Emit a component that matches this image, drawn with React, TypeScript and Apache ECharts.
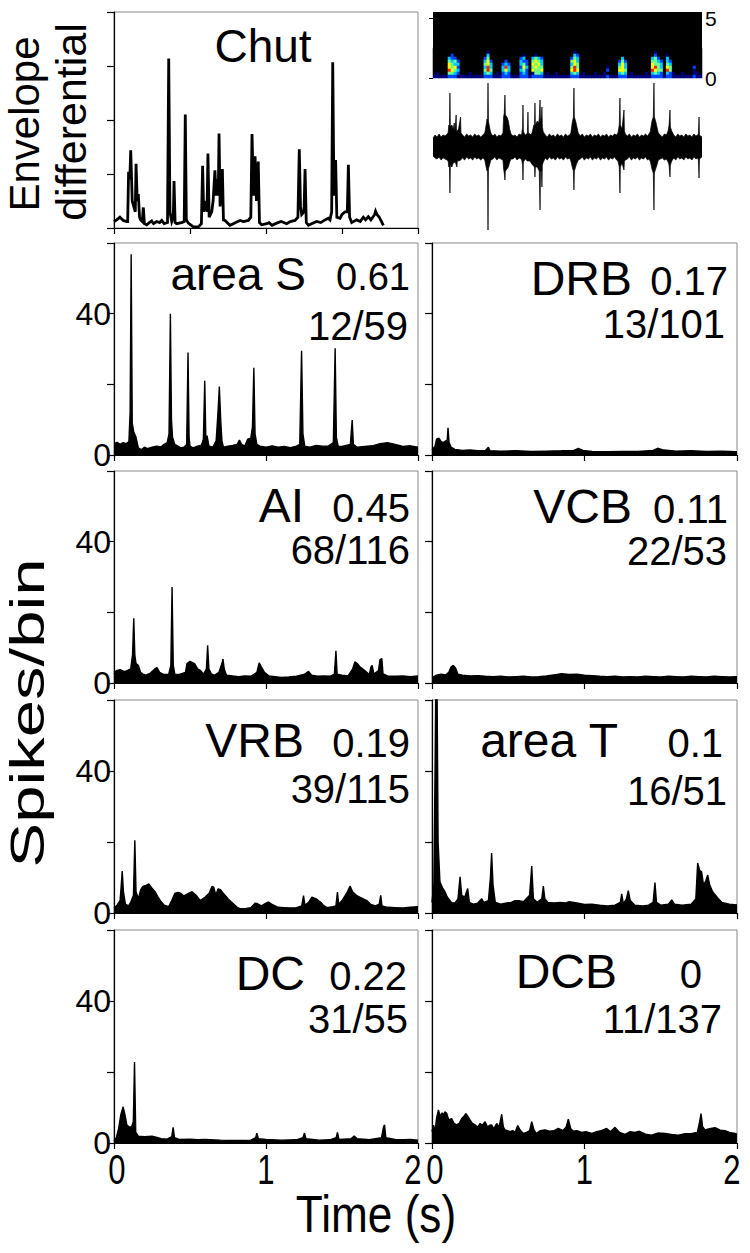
import React, { useEffect, useRef } from "react";
import * as echarts from "echarts";

// ---------------- DATA ----------------
// Envelope differential of the "Chut" call: [time (s), value]
const chutEnvelope: number[][] = [
  [0, 0.12], [0.018, 0.15], [0.039, 0.2], [0.061, 0.14], [0.083, 0.12], [0.09, 0.12], [0.096, 1.04], [0.104, 0.9],
  [0.11, 1.44], [0.12, 0.5], [0.14, 0.3], [0.145, 1.19], [0.153, 0.5], [0.16, 0.63], [0.168, 0.2], [0.175, 0.15],
  [0.186, 0.12], [0.193, 0.38], [0.2, 0.08], [0.215, 0.06], [0.232, 0.1], [0.248, 0.13], [0.26, 0.08], [0.281, 0.12],
  [0.3, 0.1], [0.314, 0.14], [0.33, 0.08], [0.352, 0.1], [0.36, 3.14], [0.368, 0.3], [0.38, 0.12], [0.39, 0.2],
  [0.395, 0.87], [0.402, 0.1], [0.412, 0.08], [0.445, 0.1], [0.462, 0.12], [0.469, 2.1], [0.476, 0.15], [0.489, 0.09],
  [0.522, 0.02], [0.555, 0.02], [0.575, 0.08], [0.583, 1.15], [0.59, 0.3], [0.599, 0.5], [0.612, 0.3], [0.618, 1.38],
  [0.626, 0.2], [0.643, 0.3], [0.652, 0.5], [0.664, 1.07], [0.672, 0.6], [0.678, 0.9], [0.686, 0.6], [0.691, 1.75],
  [0.698, 0.4], [0.713, 1.09], [0.72, 0.15], [0.73, 0.14], [0.763, 0.05], [0.785, 0.08], [0.807, 0.11], [0.83, 0.14],
  [0.851, 0.12], [0.884, 0.14], [0.9, 0.2], [0.908, 1.74], [0.918, 0.6], [0.928, 1.33], [0.937, 0.5], [0.949, 1.23],
  [0.957, 0.1], [0.971, 0.06], [1.004, 0.08], [1.02, 0.1], [1.04, 0.05], [1.07, 0.09], [1.1, 0.12], [1.136, 0.08],
  [1.16, 0.12], [1.191, 0.14], [1.21, 0.2], [1.219, 1.46], [1.227, 0.4], [1.235, 0.25], [1.25, 0.3], [1.257, 1.09],
  [1.265, 0.1], [1.279, 0.05], [1.3, 0.08], [1.333, 0.12], [1.36, 0.1], [1.388, 0.15], [1.41, 0.18], [1.421, 0.15],
  [1.432, 0.3], [1.439, 3.07], [1.447, 0.6], [1.458, 1.26], [1.466, 0.2], [1.487, 0.18], [1.5, 0.25], [1.52, 0.3],
  [1.535, 0.3], [1.542, 1.17], [1.55, 0.2], [1.564, 0.1], [1.596, 0.15], [1.62, 0.12], [1.64, 0.2], [1.655, 0.15],
  [1.673, 0.21], [1.69, 0.15], [1.702, 0.2], [1.715, 0.25], [1.721, 0.31], [1.73, 0.25], [1.745, 0.2], [1.76, 0.12],
  [1.772, 0.05],
];

// Sound pressure waveform (upper / lower excursions), arbitrary units
const waveUpper: number[][] = [
  [0, 9], [0.015, 12], [0.03, 10], [0.045, 13], [0.06, 10], [0.075, 12], [0.09, 11], [0.105, 13],
  [0.112, 14], [0.118, 22], [0.122, 18], [0.126, 54], [0.129, 20], [0.14, 22], [0.15, 18], [0.158, 24], [0.163, 16],
  [0.172, 32], [0.175, 15], [0.19, 18], [0.205, 30], [0.208, 14], [0.22, 12], [0.235, 10], [0.25, 13], [0.265, 11],
  [0.28, 12], [0.295, 10], [0.31, 13], [0.325, 11], [0.34, 12], [0.355, 10], [0.37, 12],
  [0.385, 14], [0.395, 22], [0.402, 28], [0.406, 24], [0.409, 64], [0.412, 26], [0.42, 20], [0.43, 14],
  [0.445, 11], [0.46, 13], [0.475, 10], [0.49, 12], [0.505, 11],
  [0.52, 14], [0.525, 30], [0.53, 34], [0.535, 52], [0.538, 32], [0.55, 30], [0.56, 26], [0.57, 18], [0.58, 13],
  [0.595, 11], [0.61, 12], [0.625, 10], [0.64, 13], [0.655, 12],
  [0.66, 13], [0.666, 20], [0.669, 42], [0.672, 16], [0.68, 13], [0.69, 12], [0.702, 14], [0.706, 35], [0.709, 14],
  [0.72, 13], [0.73, 12], [0.74, 16], [0.75, 22], [0.755, 20], [0.758, 44], [0.761, 22], [0.775, 26], [0.785, 24],
  [0.79, 28], [0.796, 47], [0.799, 26], [0.806, 30], [0.81, 40], [0.813, 20], [0.82, 15],
  [0.835, 12], [0.85, 10], [0.865, 13], [0.88, 11], [0.895, 12], [0.91, 10], [0.925, 13], [0.94, 11], [0.955, 12],
  [0.97, 10], [0.985, 13], [1.0, 11], [1.015, 12],
  [1.025, 14], [1.035, 24], [1.044, 30], [1.048, 59], [1.051, 30], [1.06, 26], [1.07, 20], [1.08, 14],
  [1.095, 11], [1.11, 13], [1.125, 10], [1.14, 12], [1.155, 11], [1.17, 13], [1.185, 10], [1.2, 12], [1.215, 11],
  [1.23, 13], [1.245, 10], [1.26, 12], [1.275, 11], [1.29, 13], [1.305, 10], [1.32, 12], [1.335, 11], [1.35, 13],
  [1.365, 12], [1.375, 14], [1.385, 22], [1.39, 49], [1.393, 22], [1.405, 18], [1.42, 37], [1.423, 16], [1.43, 13],
  [1.445, 11], [1.46, 13], [1.475, 10], [1.49, 12], [1.505, 11], [1.52, 13], [1.535, 10], [1.55, 12], [1.565, 11],
  [1.58, 13], [1.595, 11], [1.605, 13],
  [1.615, 15], [1.628, 26], [1.638, 30], [1.643, 64], [1.646, 30], [1.655, 26], [1.665, 20], [1.675, 14],
  [1.69, 12], [1.705, 10], [1.72, 13], [1.735, 12],
  [1.748, 16], [1.755, 22], [1.762, 37], [1.765, 20], [1.775, 16],
  [1.79, 12], [1.805, 10], [1.82, 13], [1.835, 11], [1.85, 12], [1.865, 10], [1.88, 13], [1.895, 11], [1.91, 12],
  [1.925, 10], [1.94, 13], [1.955, 11], [1.968, 12], [1.973, 13], [1.978, 30], [1.981, 12], [1.99, 11], [2, 10],
];
const waveLower: number[][] = [
  [0, -9], [0.015, -11], [0.03, -12], [0.045, -10], [0.06, -13], [0.075, -11], [0.09, -12], [0.105, -13],
  [0.112, -14], [0.118, -20], [0.122, -18], [0.126, -46], [0.129, -18], [0.14, -20], [0.15, -16], [0.165, -15],
  [0.178, -20], [0.181, -13], [0.19, -14], [0.205, -13], [0.22, -11], [0.235, -13], [0.25, -10], [0.265, -12],
  [0.28, -11], [0.295, -13], [0.31, -10], [0.325, -12], [0.34, -11], [0.355, -13], [0.37, -11],
  [0.385, -13], [0.395, -20], [0.402, -24], [0.406, -22], [0.409, -83], [0.412, -22], [0.42, -18], [0.43, -13],
  [0.445, -12], [0.46, -10], [0.475, -13], [0.49, -11], [0.505, -12],
  [0.52, -13], [0.525, -22], [0.53, -26], [0.535, -33], [0.538, -24], [0.55, -22], [0.56, -20], [0.57, -15], [0.58, -12],
  [0.595, -12], [0.61, -10], [0.625, -13], [0.64, -11], [0.655, -12],
  [0.66, -13], [0.666, -18], [0.669, -33], [0.672, -15], [0.68, -13], [0.69, -12], [0.7, -14], [0.72, -14],
  [0.74, -18], [0.755, -20], [0.758, -30], [0.761, -20], [0.775, -20], [0.79, -24], [0.796, -63], [0.799, -24],
  [0.806, -24], [0.81, -40], [0.813, -18], [0.82, -15],
  [0.835, -11], [0.85, -13], [0.865, -10], [0.88, -12], [0.895, -11], [0.91, -13], [0.925, -10], [0.94, -12],
  [0.955, -11], [0.97, -13], [0.985, -10], [1.0, -12], [1.015, -11],
  [1.025, -14], [1.035, -20], [1.044, -24], [1.048, -43], [1.051, -24], [1.06, -20], [1.07, -16], [1.08, -13],
  [1.095, -12], [1.11, -10], [1.125, -13], [1.14, -11], [1.155, -12], [1.17, -10], [1.185, -13], [1.2, -11],
  [1.215, -12], [1.23, -10], [1.245, -13], [1.26, -11], [1.275, -12], [1.29, -10], [1.305, -13], [1.32, -11],
  [1.335, -12], [1.35, -10], [1.365, -13], [1.375, -14], [1.385, -20], [1.39, -46], [1.393, -20], [1.405, -16],
  [1.42, -23], [1.423, -14], [1.43, -13], [1.445, -12], [1.46, -10], [1.475, -13], [1.49, -11], [1.505, -12],
  [1.52, -10], [1.535, -13], [1.55, -11], [1.565, -12], [1.58, -10], [1.595, -13], [1.605, -12],
  [1.615, -14], [1.628, -22], [1.638, -26], [1.643, -63], [1.646, -26], [1.655, -22], [1.665, -18], [1.675, -13],
  [1.69, -12], [1.705, -11], [1.72, -13], [1.735, -12], [1.748, -15], [1.755, -18], [1.762, -30], [1.765, -18],
  [1.775, -14], [1.79, -11], [1.805, -13], [1.82, -10], [1.835, -12], [1.85, -11], [1.865, -13], [1.88, -10],
  [1.895, -12], [1.91, -11], [1.925, -13], [1.94, -10], [1.955, -12], [1.968, -11], [1.973, -13], [1.978, -31],
  [1.981, -12], [1.99, -11], [2, -10],
];

// Spectrogram intensity (0 = black … 6 = red), rows from top (bin 9) to bottom (bin 0), 90 time columns
const spectroRows: string[][] = [
  ["0000000000", "0000000000", "0000000000", "0000000000", "0000000000", "0000000000", "0000000000", "0000000000", "0000000000"],
  ["0000000000", "0000000010", "0000000000", "0000000000", "0000000100", "0000000000", "0000000000", "0000100000", "0000000000"],
  ["0000002000", "0000000030", "0000000000", "1000100000", "0000000320", "0000000000", "0000000000", "0000200010", "0000000000"],
  ["0000032200", "0000000240", "0000000002", "3003432000", "0000002430", "0000000000", "0003000000", "0003420030", "0000000000"],
  ["0000043420", "0000000352", "0000200003", "2204543000", "0000004530", "0000000000", "0024200000", "0004432032", "0000000000"],
  ["0000054330", "0000000453", "0002320003", "4205453000", "0000003540", "0000000000", "0035300000", "0005443043", "0000000000"],
  ["0000054520", "0000000363", "0003630002", "5304544000", "0000004640", "0000000010", "0045300000", "0005643054", "0000000200"],
  ["0000065430", "0000000464", "0003530003", "4205445000", "0000005650", "0000000020", "0055400000", "0006544064", "0000000100"],
  ["0100044320", "0010000343", "0102320002", "3201443010", "0100003430", "1000100100", "0034301000", "0103432032", "1001000110"],
  ["1111122211", "1111111222", "1112221112", "2212222111", "1111112221", "1111111121", "1122211111", "1112222122", "1111111211"],
];
const spectroFreqBins = 22;
const spectroFreqLabels = [0, 5];

// PSTHs (spikes/bin) : [time (s), spikes]
const psthAreaS: number[][] = [
  [0, 3.2], [0.02, 3.6], [0.04, 3.0], [0.06, 3.5], [0.08, 3.2], [0.098, 3.8], [0.106, 12], [0.113, 56.8], [0.12, 9], [0.13, 6.5],
  [0.145, 5], [0.16, 2], [0.18, 1.5], [0.2, 2.2], [0.22, 1.8], [0.25, 2.2], [0.28, 2.5], [0.31, 2.3], [0.33, 3], [0.35, 3.5],
  [0.362, 6], [0.371, 40], [0.378, 10], [0.385, 5], [0.4, 3], [0.42, 2.5], [0.44, 2], [0.46, 2.2], [0.478, 3], [0.487, 29],
  [0.494, 5], [0.5, 2.5], [0.52, 2], [0.55, 2.5], [0.575, 2.8], [0.588, 4.5], [0.597, 21], [0.604, 5], [0.612, 5.5], [0.625, 2.5],
  [0.65, 2.2], [0.672, 4], [0.684, 12], [0.693, 19.4], [0.702, 10], [0.71, 4], [0.72, 2.2], [0.75, 2.5], [0.78, 2.7], [0.81, 3],
  [0.825, 4.2], [0.84, 3], [0.86, 2.5], [0.88, 4.5], [0.9, 4.8], [0.911, 8], [0.92, 24.7], [0.928, 6], [0.94, 3], [0.96, 2.5],
  [1, 2.2], [1.04, 2.6], [1.08, 2.2], [1.12, 2.4], [1.16, 2.1], [1.2, 2.5], [1.222, 3], [1.234, 29.5], [1.243, 6], [1.255, 2.5],
  [1.29, 2.2], [1.33, 2.7], [1.37, 2.5], [1.41, 2.5], [1.443, 3.5], [1.455, 30.2], [1.463, 5], [1.475, 2.5], [1.5, 2.4], [1.555, 3],
  [1.567, 9.9], [1.575, 3], [1.6, 2.2], [1.65, 2.4], [1.7, 2.6], [1.75, 3.2], [1.8, 3.5], [1.85, 3.0], [1.9, 2.4], [1.95, 2.6], [2, 2.2],
];
const psthDRB: number[][] = [
  [0, 1.5], [0.02, 2.5], [0.03, 4.5], [0.045, 4.8], [0.06, 3.8], [0.075, 3.5], [0.09, 4], [0.1, 4.2], [0.105, 7.7], [0.112, 3.5],
  [0.125, 2.2], [0.15, 1.6], [0.2, 1.3], [0.25, 1.4], [0.3, 1.2], [0.35, 1.3], [0.37, 2.2], [0.38, 1.2], [0.45, 1.1], [0.55, 1.2],
  [0.65, 1.0], [0.75, 1.1], [0.85, 1.2], [0.93, 1.3], [0.96, 1.9], [0.99, 1.3], [1.05, 1.0], [1.15, 0.9], [1.25, 1.0], [1.35, 1.0],
  [1.45, 1.3], [1.48, 1.9], [1.52, 1.4], [1.6, 1.1], [1.7, 1.2], [1.8, 1.0], [1.9, 1.1], [2, 0.9],
];
const psthAI: number[][] = [
  [0, 2.5], [0.015, 3.5], [0.04, 3.8], [0.07, 3.2], [0.09, 3.6], [0.11, 4], [0.122, 8], [0.13, 18.3], [0.137, 8], [0.145, 5.5],
  [0.16, 5], [0.175, 3], [0.19, 2.5], [0.21, 2.2], [0.24, 2.8], [0.27, 4], [0.283, 4.4], [0.3, 3], [0.33, 2.4], [0.36, 2.5],
  [0.374, 5], [0.382, 27.2], [0.39, 5], [0.4, 2.5], [0.43, 2.4], [0.47, 3], [0.48, 5.5], [0.5, 6.1], [0.53, 5.5], [0.55, 4],
  [0.57, 3.5], [0.59, 2.5], [0.608, 4], [0.616, 10.7], [0.624, 4], [0.64, 2.6], [0.66, 2.2], [0.69, 3], [0.71, 5.5], [0.717, 6.8],
  [0.725, 4], [0.74, 2.2], [0.78, 2], [0.82, 1.8], [0.86, 2], [0.9, 1.9], [0.94, 3], [0.955, 5.7], [0.97, 4.5], [0.99, 3],
  [1.02, 2], [1.06, 1.8], [1.1, 1.6], [1.15, 1.7], [1.2, 1.9], [1.25, 2.4], [1.28, 3.3], [1.3, 2.2], [1.34, 1.9], [1.38, 2],
  [1.42, 1.9], [1.45, 2.5], [1.46, 9.1], [1.468, 2.5], [1.5, 2.2], [1.54, 2], [1.57, 4], [1.585, 6], [1.6, 5.5], [1.62, 4.5],
  [1.65, 3.5], [1.68, 2.4], [1.69, 4.5], [1.698, 5], [1.71, 2.5], [1.74, 3.5], [1.75, 6.6], [1.762, 6.9], [1.77, 2.6], [1.8, 2],
  [1.85, 1.9], [1.9, 2], [1.95, 1.8], [2, 2],
];
const psthVCB: number[][] = [
  [0, 1.5], [0.03, 2.2], [0.06, 2.5], [0.09, 2.3], [0.11, 3], [0.125, 4.5], [0.14, 5], [0.155, 4.2], [0.17, 2.5], [0.2, 2.2],
  [0.25, 2], [0.3, 2.1], [0.35, 1.9], [0.4, 1.8], [0.45, 1.9], [0.5, 1.7], [0.55, 1.8], [0.6, 1.9], [0.65, 1.7], [0.7, 1.8],
  [0.75, 2], [0.8, 2.3], [0.85, 2.6], [0.9, 2.4], [0.95, 2.5], [1, 2.2], [1.05, 2.1], [1.1, 1.9], [1.15, 1.8], [1.2, 1.9],
  [1.25, 1.7], [1.3, 1.8], [1.35, 1.7], [1.4, 1.9], [1.45, 1.8], [1.5, 1.7], [1.55, 1.9], [1.6, 1.8], [1.65, 1.7], [1.7, 1.9],
  [1.75, 1.8], [1.8, 1.7], [1.85, 1.9], [1.9, 1.8], [1.95, 1.7], [2, 1.8],
];
const psthVRB: number[][] = [
  [0, 1.5], [0.02, 2.2], [0.04, 3.5], [0.048, 8], [0.054, 11.8], [0.062, 6], [0.075, 2.5], [0.095, 2], [0.11, 3], [0.128, 5],
  [0.137, 20.5], [0.145, 6], [0.16, 4], [0.175, 6.5], [0.19, 7.5], [0.21, 7.8], [0.229, 8.2], [0.25, 7], [0.27, 6], [0.29, 4.5],
  [0.305, 3.5], [0.33, 2.2], [0.36, 1.8], [0.38, 3.5], [0.4, 5.5], [0.42, 5.8], [0.437, 5.6], [0.46, 4.8], [0.49, 5.5], [0.514, 6],
  [0.54, 5], [0.568, 3.5], [0.6, 4.5], [0.625, 5.5], [0.645, 7.5], [0.656, 7.3], [0.67, 5], [0.685, 6.8], [0.7, 6.6], [0.72, 5.5],
  [0.75, 4], [0.787, 2.5], [0.81, 1.6], [0.83, 1.2], [0.87, 1.3], [0.9, 1.5], [0.93, 2.8], [0.945, 2.6], [0.97, 2], [1, 2.8],
  [1.017, 3.1], [1.04, 2.4], [1.08, 1.6], [1.12, 1.5], [1.16, 1.4], [1.2, 1.5], [1.235, 2], [1.247, 4.9], [1.256, 2.2], [1.28, 3],
  [1.302, 4.5], [1.33, 4], [1.36, 3], [1.378, 2.2], [1.4, 1.5], [1.44, 1.8], [1.46, 2], [1.47, 5.9], [1.478, 2.5], [1.5, 3.5],
  [1.53, 5.5], [1.553, 7.6], [1.57, 6], [1.6, 4.8], [1.63, 4.2], [1.663, 3.5], [1.69, 2.4], [1.72, 2], [1.745, 2.5], [1.755, 5],
  [1.763, 2], [1.8, 1.6], [1.85, 1.5], [1.9, 1.4], [1.95, 1.6], [2, 1.8],
];
const psthAreaT: number[][] = [
  [0, 3], [0.012, 8], [0.02, 40], [0.025, 65], [0.033, 65], [0.04, 20], [0.052, 8.8], [0.07, 7], [0.085, 6], [0.1, 4.5],
  [0.129, 2.9], [0.15, 2.8], [0.17, 4], [0.184, 10.2], [0.195, 5], [0.215, 4.5], [0.234, 6.9], [0.245, 3], [0.27, 2.5], [0.3, 2.8],
  [0.326, 4], [0.34, 3], [0.37, 3.5], [0.383, 10], [0.391, 16.9], [0.4, 8], [0.415, 3], [0.45, 2.5], [0.49, 2.8], [0.52, 3],
  [0.544, 3.5], [0.57, 3.5], [0.6, 3.2], [0.64, 5], [0.654, 13.2], [0.665, 4], [0.69, 3], [0.72, 4], [0.73, 7.6], [0.74, 4],
  [0.76, 3], [0.8, 2.8], [0.84, 3], [0.872, 2.8], [0.9, 3.2], [0.95, 2.8], [1, 2.4], [1.047, 2.5], [1.1, 2.2], [1.15, 2],
  [1.2, 2.2], [1.235, 3], [1.244, 5.4], [1.255, 2.5], [1.275, 4], [1.287, 6.3], [1.3, 3.5], [1.33, 2.2], [1.38, 2], [1.42, 2.2],
  [1.45, 3], [1.462, 8.6], [1.472, 3], [1.5, 2.2], [1.55, 2.5], [1.572, 3.7], [1.59, 2.5], [1.64, 2.2], [1.7, 2.5], [1.73, 4],
  [1.742, 14.1], [1.755, 12], [1.768, 11.6], [1.78, 8], [1.795, 9], [1.808, 10.7], [1.82, 8], [1.84, 6], [1.878, 4], [1.9, 3],
  [1.95, 2.5], [2, 2.3],
];
const psthDC: number[][] = [
  [0, 0.5], [0.015, 1.5], [0.03, 4], [0.045, 8], [0.06, 10.2], [0.072, 8], [0.085, 5], [0.098, 4.6], [0.115, 4.5], [0.127, 6],
  [0.135, 22.8], [0.143, 3], [0.16, 1.9], [0.2, 1.8], [0.25, 1.9], [0.283, 1.6], [0.31, 1.2], [0.35, 1.1], [0.38, 1.8], [0.389, 4.4],
  [0.398, 1.5], [0.43, 1], [0.5, 1.1], [0.55, 0.9], [0.6, 1], [0.7, 0.8], [0.8, 0.7], [0.9, 0.8], [0.932, 1.5], [0.94, 2.8],
  [0.95, 1.2], [1, 1], [1.1, 0.8], [1.2, 0.9], [1.243, 1.5], [1.253, 2.8], [1.263, 1.2], [1.35, 0.8], [1.42, 0.9], [1.462, 1.5],
  [1.47, 3], [1.48, 1], [1.56, 1.2], [1.58, 2], [1.6, 1.2], [1.68, 0.9], [1.76, 1.5], [1.773, 4.5], [1.78, 5.1], [1.788, 1.5],
  [1.85, 1], [1.9, 0.9], [1.95, 1], [2, 0.8],
];
const psthDCB: number[][] = [
  [0, 3.2], [0.01, 5], [0.02, 3.2], [0.03, 7], [0.042, 9.3], [0.055, 7.5], [0.066, 8.5], [0.074, 7.9], [0.085, 8.8], [0.096, 8.4],
  [0.11, 6.5], [0.129, 6.9], [0.145, 5.5], [0.162, 5.1], [0.178, 5.5], [0.195, 6.9], [0.21, 7.5], [0.221, 8.3], [0.235, 7.5], [0.249, 6.5],
  [0.265, 5.5], [0.282, 5.1], [0.3, 4.5], [0.315, 5.5], [0.33, 5], [0.348, 6], [0.365, 4.5], [0.378, 5], [0.391, 5.1], [0.405, 4],
  [0.424, 5.5], [0.44, 4.5], [0.457, 8.1], [0.468, 4.5], [0.479, 3.7], [0.495, 3.5], [0.511, 3.2], [0.53, 3.5], [0.545, 3], [0.562, 4.9],
  [0.58, 3.5], [0.599, 2.7], [0.62, 3], [0.64, 3.5], [0.654, 6], [0.67, 3.5], [0.686, 2.7], [0.71, 3.5], [0.741, 3.7], [0.77, 3.3],
  [0.8, 3.5], [0.828, 4.1], [0.86, 3.5], [0.88, 4.5], [0.894, 6.7], [0.91, 4], [0.927, 3.3], [0.95, 3.5], [0.981, 3], [1.01, 3.2],
  [1.047, 2.7], [1.08, 3.2], [1.11, 3.5], [1.145, 4.1], [1.17, 3.2], [1.2, 4.4], [1.23, 3], [1.266, 2.4], [1.3, 3.2], [1.331, 3],
  [1.36, 3.3], [1.4, 2.5], [1.44, 2.2], [1.48, 2.8], [1.528, 2.7], [1.57, 2.4], [1.615, 2.2], [1.66, 2.6], [1.703, 2.7], [1.74, 3],
  [1.755, 6], [1.764, 8.3], [1.775, 4.5], [1.79, 3.7], [1.82, 4], [1.856, 4.3], [1.89, 3.6], [1.921, 3.5], [1.95, 3], [1.987, 2.7],
  [2, 2.5],
];

const panelNames = ["area S", "DRB", "AI", "VCB", "VRB", "area T", "DC", "DCB"];
const panelIndexValues = ["0.61", "0.17", "0.45", "0.11", "0.19", "0.1", "0.22", "0"];
const panelCounts = ["12/59", "13/101", "68/116", "22/53", "39/115", "16/51", "31/55", "11/137"];
const panelData = [psthAreaS, psthDRB, psthAI, psthVCB, psthVRB, psthAreaT, psthDC, psthDCB];
const yTickLabels = [0, 40];
const timeTicks = [0, 1, 2];

// ---------------- LAYOUT ----------------
const FONT = "Liberation Sans, Arial, Helvetica, sans-serif";
const COL_LEFT = [114, 432];
const COL_WIDTH = [304, 305];
const ROW_TOP = [243, 471, 700, 930];
const ROW_HEIGHT = [212, 212, 213, 213];
// [nameRight, nameBaseline, valueRight, valueBaseline, countRight, countBaseline]
const LABEL_POS = [
  [306, 290, 410, 290, 408, 340],
  [632, 295, 728, 295, 725, 338],
  [304, 522, 410, 522, 410, 564],
  [632, 523, 728, 523, 727, 565],
  [304, 757, 410, 757, 410, 803],
  [618, 757, 723, 757, 727, 805],
  [305, 990, 407, 990, 408, 1033],
  [617, 988, 702, 988, 722, 1033],
];
const NAME_SIZES = [46, 48, 48, 48, 48, 48, 48, 48];
const VALUE_SIZES = [38, 40, 40, 40, 40, 40, 40, 40];
const COUNT_SIZE = 40;
const TIME_LABEL_SIZE = 42;
const TIME_LABEL_SCALE = 0.74;
const TIME_LABEL_BASELINE = 1184;

function mid(baseline: number, size: number) {
  return baseline - 0.3465 * size;
}

function buildOption(): any {
  const grid: any[] = [];
  const xAxis: any[] = [];
  const yAxis: any[] = [];
  const series: any[] = [];
  const graphic: any[] = [];
  const axisLine = { show: true, lineStyle: { color: "#000", width: 1.2 } };
  const tick = (len: number) => ({ show: true, length: len, lineStyle: { color: "#000", width: 1.2 } });

  // 0: envelope differential
  grid.push({ left: 114, top: 12, width: 304, height: 216, show: true, borderColor: "#888", borderWidth: 1 });
  xAxis.push({
    gridIndex: 0, type: "value", min: 0, max: 2, interval: 0.5, axisLine, axisTick: tick(6),
    axisLabel: { show: false }, splitLine: { show: false },
  });
  yAxis.push({
    gridIndex: 0, type: "value", min: 0, max: 4, interval: 1, axisLine, axisTick: tick(7),
    axisLabel: { show: false }, splitLine: { show: false },
  });
  series.push({
    type: "line", xAxisIndex: 0, yAxisIndex: 0, data: chutEnvelope, symbol: "none", silent: true,
    lineStyle: { color: "#000", width: 2.8, join: "miter" },
  });

  // 1: spectrogram
  const nCols = spectroRows[0].join("").length;
  const nRows = spectroRows.length;
  const cells: number[][] = [];
  spectroRows.forEach((groups, i) => {
    const row = groups.join("");
    const bin = nRows - 1 - i;
    for (let c = 0; c < row.length; c++) cells.push([c, bin, Number(row[c])]);
  });
  grid.push({ left: 433, top: 12, width: 269, height: 66, show: true, backgroundColor: "#000", borderWidth: 0 });
  xAxis.push({ gridIndex: 1, type: "category", data: Array.from({ length: nCols }, (_, i) => String(i)), show: false });
  yAxis.push({ gridIndex: 1, type: "category", data: Array.from({ length: spectroFreqBins }, (_, i) => String(i)), show: false });
  series.push({
    type: "heatmap", xAxisIndex: 1, yAxisIndex: 1, data: cells, silent: true,
    itemStyle: { borderWidth: 0 }, emphasis: { disabled: true },
  });

  // 2: waveform
  grid.push({ left: 433, top: 62, width: 269, height: 170 });
  xAxis.push({ gridIndex: 2, type: "value", min: 0, max: 2, show: false });
  yAxis.push({ gridIndex: 2, type: "value", min: -85, max: 85, show: false });
  [waveUpper, waveLower].forEach((d) =>
    series.push({
      type: "line", xAxisIndex: 2, yAxisIndex: 2, data: d, symbol: "none", silent: true,
      lineStyle: { color: "#000", width: 0.7 }, areaStyle: { color: "#000", opacity: 1 },
    })
  );

  // 3..10: PSTH panels
  panelData.forEach((d, p) => {
    const row = Math.floor(p / 2);
    const col = p % 2;
    const gi = grid.length;
    grid.push({
      left: COL_LEFT[col], top: ROW_TOP[row], width: COL_WIDTH[col], height: ROW_HEIGHT[row],
      show: true, borderColor: "#888", borderWidth: 1,
    });
    xAxis.push({
      gridIndex: gi, type: "value", min: timeTicks[0], max: timeTicks[timeTicks.length - 1], interval: 1,
      axisLine, axisTick: tick(6), axisLabel: { show: false }, splitLine: { show: false },
    });
    yAxis.push({
      gridIndex: gi, type: "value", min: 0, max: 60, interval: 20, axisLine, axisTick: tick(7),
      axisLabel: {
        show: col === 0, fontSize: 32, fontFamily: FONT, color: "#000", margin: 3,
        formatter: (v: number) => (yTickLabels.indexOf(v) >= 0 ? String(v) : ""),
      },
      splitLine: { show: false },
    });
    series.push({
      type: "line", xAxisIndex: gi, yAxisIndex: gi, data: d, symbol: "none", silent: true, clip: true,
      lineStyle: { color: "#000", width: 1.4 }, areaStyle: { color: "#000", opacity: 1 },
    });
    const L = LABEL_POS[p];
    graphic.push({
      type: "text", x: L[0], y: mid(L[1], NAME_SIZES[p]), silent: true,
      style: { text: panelNames[p], fontSize: NAME_SIZES[p], fontFamily: FONT, fill: "#000", align: "right", verticalAlign: "middle" },
    });
    graphic.push({
      type: "text", x: L[2], y: mid(L[3], VALUE_SIZES[p]), silent: true,
      style: { text: panelIndexValues[p], fontSize: VALUE_SIZES[p], fontFamily: FONT, fill: "#000", align: "right", verticalAlign: "middle" },
    });
    graphic.push({
      type: "text", x: L[4], y: mid(L[5], COUNT_SIZE), silent: true,
      style: { text: panelCounts[p], fontSize: COUNT_SIZE, fontFamily: FONT, fill: "#000", align: "right", verticalAlign: "middle" },
    });
    // condensed time tick labels under the bottom row
    if (row === ROW_TOP.length - 1) {
      const t0 = timeTicks[0];
      const t1 = timeTicks[timeTicks.length - 1];
      timeTicks.forEach((t, k) => {
        let x = COL_LEFT[col] + ((t - t0) / (t1 - t0)) * COL_WIDTH[col];
        if (k === 0) x += 3;
        if (k === timeTicks.length - 1) x -= 5;
        graphic.push({
          type: "text", x, y: mid(TIME_LABEL_BASELINE, TIME_LABEL_SIZE), scaleX: TIME_LABEL_SCALE, silent: true,
          style: { text: String(t), fontSize: TIME_LABEL_SIZE, fontFamily: FONT, fill: "#000", align: "center", verticalAlign: "middle" },
        });
      });
    }
  });

  // 11: spectrogram frequency scale (kHz)
  const sgi = grid.length;
  grid.push({ left: 433, top: 18, width: 269, height: 60 });
  xAxis.push({ gridIndex: sgi, type: "value", min: 0, max: 1, show: false });
  yAxis.push({
    gridIndex: sgi, type: "value", min: spectroFreqLabels[0], max: spectroFreqLabels[1], interval: 5, position: "right",
    axisLine: { show: false }, axisTick: { show: false }, splitLine: { show: false },
    axisLabel: { fontSize: 21, fontFamily: FONT, color: "#000", margin: 3 },
  });
  yAxis.push({
    gridIndex: sgi, type: "value", min: spectroFreqLabels[0], max: spectroFreqLabels[1], interval: 5, position: "left",
    axisLine: { show: false }, axisTick: { show: true, length: 4, lineStyle: { color: "#000", width: 1 } },
    splitLine: { show: false }, axisLabel: { show: false },
  });

  // titles
  graphic.push({
    type: "text", x: 263, y: mid(62, 46), silent: true,
    style: { text: "Chut", fontSize: 46, fontFamily: FONT, fill: "#000", align: "center", verticalAlign: "middle" },
  });
  graphic.push({
    type: "text", x: 24, y: 124, rotation: Math.PI / 2, silent: true,
    style: { text: "Envelope", fontSize: 42, fontFamily: FONT, fill: "#000", align: "center", verticalAlign: "middle" },
  });
  graphic.push({
    type: "text", x: 71, y: 122, rotation: Math.PI / 2, silent: true,
    style: { text: "differential", fontSize: 43, fontFamily: FONT, fill: "#000", align: "center", verticalAlign: "middle" },
  });
  graphic.push({
    type: "text", x: 27, y: 713, rotation: Math.PI / 2, scaleY: 0.72, silent: true,
    style: { text: "Spikes/bin", fontSize: 67, fontFamily: FONT, fill: "#000", align: "center", verticalAlign: "middle" },
  });
  graphic.push({
    type: "text", x: 376, y: mid(1232, 52), scaleX: 0.85, silent: true,
    style: { text: "Time (s)", fontSize: 52, fontFamily: FONT, fill: "#000", align: "center", verticalAlign: "middle" },
  });

  return {
    animation: false,
    backgroundColor: "#fff",
    grid,
    xAxis,
    yAxis,
    visualMap: {
      show: false, type: "continuous", seriesIndex: 1, dimension: 2, min: 0, max: 6,
      inRange: { color: ["#000000", "#00007a", "#0046ff", "#00c8ff", "#6cff8c", "#ffff00", "#ff2200"] },
    },
    series,
    graphic,
  };
}

export default function App() {
  const ref = useRef<HTMLDivElement>(null);
  useEffect(() => {
    if (!ref.current) return;
    const chart = echarts.init(ref.current, null, { renderer: "svg" });
    chart.setOption(buildOption());
    return () => chart.dispose();
  }, []);
  return (
    <div
      ref={ref}
      style={{ position: "absolute", left: 0, top: 0, width: 750, height: 1253, background: "#fff" }}
    />
  );
}
